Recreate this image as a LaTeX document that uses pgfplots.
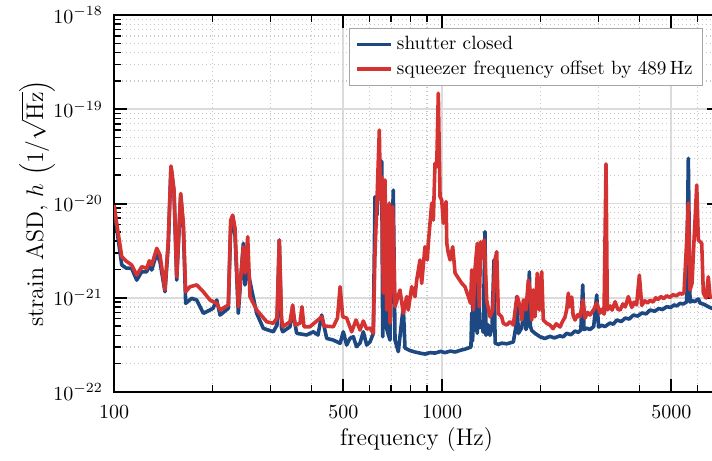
\documentclass[border=0pt]{standalone}
\usepackage{pgfplots}
\usepackage{pgfplotstable}
\pgfplotsset{compat=1.18}
\usetikzlibrary{calc}
\definecolor{cblue}{RGB}{30,72,130}
\definecolor{cred}{RGB}{213,50,50}

\pgfplotstableread{
f h
100 9.64e-21
102.1 5.23e-21
105.6 2.23e-21
108.8 2.07e-21
113.2 2.05e-21
117.3 1.54e-21
121.5 1.89e-21
125.8 1.89e-21
128.1 2.28e-21
130.3 1.97e-21
135.0 2.96e-21
138.1 2.40e-21
143.0 1.16e-21
146.4 3.63e-21
149.2 2.46e-20
152.4 1.32e-20
155.3 1.54e-21
159.7 1.23e-20
162.7 5.50e-21
165.4 8.73e-22
172.5 9.87e-22
178.7 9.47e-22
187.2 6.84e-22
196.2 7.42e-22
200.4 7.73e-22
205.7 9.47e-22
210.5 6.56e-22
223.1 7.73e-22
226.9 5.91e-21
230.1 6.41e-21
233.8 4.63e-21
239.3 6.84e-22
247.9 3.78e-21
250.8 1.37e-21
255.6 1.97e-21
262.9 1.21e-21
272.3 6.84e-22
285.2 4.74e-22
305.9 4.36e-22
314.0 5.14e-22
319.1 4.10e-21
324.1 4.78e-22
326.8 4.36e-22
344.0 4.93e-22
350.6 7.42e-22
360.5 4.20e-22
386.8 4.03e-22
405.1 4.36e-22
418.7 4.03e-22
429.7 6.56e-22
445.1 3.71e-22
466.2 3.56e-22
489.0 3.29e-22
500.1 4.36e-22
512.1 3.15e-22
524.0 3.71e-22
536.4 3.86e-22
548.8 3.03e-22
562.3 3.30e-22
575.5 4.36e-22
589.4 3.15e-22
603.2 3.40e-22
617.4 4.20e-22
624.8 1.18e-20
633.6 7.55e-21
643.9 2.89e-20
654.9 2.78e-20
659.5 3.86e-22
670.2 2.52e-21
679.7 4.55e-22
694.2 3.56e-22
702.5 3.21e-21
710.4 1.39e-20
719.0 3.56e-22
735.8 2.68e-22
762.1 8.04e-22
771.2 2.93e-22
800.0 2.75e-22
827.3 2.66e-22
860.0 2.58e-22
887.4 2.53e-22
920.0 2.62e-22
951.9 2.59e-22
990.0 2.70e-22
1021 2.62e-22
1060 2.72e-22
1096 2.66e-22
1140 2.78e-22
1175 2.85e-22
1225 3.00e-22
1232 6.90e-22
1240 3.50e-22
1246 1.97e-21
1255 4.50e-22
1270 5.40e-22
1281 4.20e-22
1290 3.63e-21
1300 4.80e-22
1320 5.60e-22
1335 4.30e-22
1352 5.02e-21
1362 4.00e-22
1380 5.20e-22
1400 4.00e-22
1420 4.80e-22
1440 2.52e-21
1452 3.30e-22
1485 3.20e-22
1520 3.30e-22
1575 3.25e-22
1650 3.40e-22
1681 5.00e-22
1689 1.03e-21
1710 4.20e-22
1750 4.80e-22
1791 9.47e-22
1803 4.60e-22
1833 5.50e-22
1846 1.89e-21
1860 5.00e-22
1877 4.50e-22
1921 4.20e-22
1990 3.86e-22
2060 3.70e-22
2134 3.90e-22
2200 3.75e-22
2289 3.95e-22
2340 3.85e-22
2400 4.20e-22
2470 4.05e-22
2544 4.44e-22
2600 4.30e-22
2650 4.55e-22
2685 1.37e-21
2710 4.60e-22
2770 4.75e-22
2826 4.60e-22
2900 4.95e-22
2962 1.07e-21
3000 4.90e-22
3070 5.10e-22
3140 4.95e-22
3250 5.40e-22
3330 5.25e-22
3410 5.81e-22
3520 5.60e-22
3620 6.10e-22
3720 5.95e-22
3831 6.56e-22
3950 6.40e-22
4070 6.90e-22
4190 6.75e-22
4307 7.42e-22
4450 7.20e-22
4580 7.70e-22
4700 7.50e-22
4842 8.04e-22
4980 7.90e-22
5100 8.40e-22
5200 8.20e-22
5316 8.73e-22
5440 8.60e-22
5565 9.02e-22
5635 3.02e-20
5703 9.02e-22
5800 9.30e-22
5900 9.10e-22
5978 9.47e-22
6050 9.70e-22
6118 8.80e-22
6300 8.50e-22
6500 8.00e-22
6656 7.73e-22
7000 7.60e-22
}\shutter

\pgfplotstableread{
f h
100 9.64e-21
102.1 5.91e-21
105.6 2.73e-21
108.8 2.46e-21
113.2 2.23e-21
117.3 1.74e-21
121.5 2.14e-21
125.8 2.05e-21
128.1 2.47e-21
130.3 2.23e-21
135.0 3.35e-21
138.1 2.84e-21
143.0 1.21e-21
146.4 4.10e-21
149.2 2.50e-20
152.4 1.39e-20
155.3 1.67e-21
159.7 1.28e-20
162.7 6.21e-21
165.4 1.16e-21
170.5 1.31e-21
178.7 1.37e-21
187.2 1.16e-21
196.2 9.47e-22
205.7 8.73e-22
210.5 7.42e-22
223.1 8.38e-22
226.9 6.68e-21
230.1 7.55e-21
233.8 5.50e-21
239.3 8.04e-22
247.9 3.48e-21
250.8 1.83e-21
255.6 4.44e-21
259.8 1.03e-21
272.3 7.42e-22
292.1 5.57e-22
305.9 5.36e-22
314.0 6.10e-22
319.1 4.10e-21
324.1 6.10e-22
326.8 4.93e-22
344.0 5.57e-22
350.6 8.38e-22
356.3 5.14e-22
369.0 5.36e-22
374.2 8.04e-22
379.5 4.93e-22
395.8 4.93e-22
429.7 6.29e-22
436.7 5.02e-22
466.2 4.93e-22
480.1 6.10e-22
489 1.31e-21
498.0 6.29e-22
512.1 6.10e-22
530.4 4.36e-22
546.7 5.81e-22
562.3 4.55e-22
575.5 5.67e-22
589.4 4.66e-22
603.2 4.78e-22
617.4 4.20e-22
624.8 2.99e-21
633.6 1.09e-20
643.9 6.02e-20
649.4 1.09e-20
654.9 1.92e-20
662.3 1.12e-21
670.2 1.78e-20
678.3 7.42e-22
690.8 1.01e-20
694.2 5.40e-22
707.4 9.25e-21
719.0 8.04e-22
744.6 1.21e-21
762.1 6.84e-22
780.5 1.03e-21
789.0 7.42e-22
808.4 1.31e-21
827.0 1.03e-21
837.2 1.54e-21
856.9 2.52e-21
867.0 1.42e-21
887.4 3.48e-21
902.0 2.52e-21
908.2 3.78e-21
930.2 1.01e-20
941.0 6.68e-21
951.9 2.67e-20
963.4 2.46e-20
974.3 1.48e-19
986.1 1.18e-20
998.0 1.09e-20
1009 6.17e-21
1029 1.05e-20
1034 3.78e-21
1045 2.99e-21
1058 2.52e-21
1078 3.48e-21
1096 1.83e-21
1121 1.62e-21
1148 1.43e-21
1175 1.31e-21
1203 1.03e-21
1222 8.73e-22
1232 1.97e-21
1246 7.42e-22
1261 2.05e-21
1281 3.78e-21
1299 8.04e-22
1312 3.93e-21
1321 2.60e-21
1331 3.78e-21
1346 4.10e-21
1368 9.47e-22
1400 6.29e-22
1427 7.42e-22
1451 2.52e-21
1468 3.08e-21
1485 6.84e-22
1520 6.29e-22
1538 5.36e-22
1575 5.14e-22
1612 5.57e-22
1650 5.14e-22
1681 8.73e-22
1697 1.03e-21
1729 8.04e-22
1750 5.81e-22
1770 9.47e-22
1803 7.42e-22
1833 1.54e-21
1855 1.21e-21
1877 5.81e-22
1898 1.21e-21
1921 6.29e-22
1952 1.82e-21
1980 7.42e-22
2013 1.89e-21
2036 5.81e-22
2085 5.36e-22
2134 5.14e-22
2180 4.70e-22
2230 5.30e-22
2289 4.90e-22
2330 5.60e-22
2371 6.25e-22
2400 7.50e-22
2427 1.12e-21
2450 8.00e-22
2486 1.02e-21
2510 6.50e-22
2544 5.81e-22
2590 6.60e-22
2635 6.29e-22
2691 9.47e-22
2729 6.10e-22
2780 7.00e-22
2826 6.56e-22
2900 7.50e-22
2962 8.80e-22
3032 6.89e-22
3080 7.60e-22
3118 6.70e-22
3162 2.63e-20
3191 7.42e-22
3260 8.20e-22
3300 7.40e-22
3370 9.08e-22
3430 7.60e-22
3490 7.40e-22
3560 8.60e-22
3620 8.00e-22
3699 1.03e-21
3788 7.90e-22
3850 9.00e-22
3920 8.40e-22
3996 1.74e-21
4063 8.30e-22
4150 9.30e-22
4230 8.80e-22
4307 9.40e-22
4400 9.00e-22
4480 1.00e-21
4556 9.60e-22
4650 1.03e-21
4740 9.80e-22
4842 1.05e-21
4950 1.01e-21
5061 1.08e-21
5180 1.05e-21
5316 1.12e-21
5400 1.09e-21
5468 1.15e-21
5573 4.10e-21
5635 1.01e-20
5703 1.21e-21
5784 1.43e-21
5866 4.10e-21
5978 1.57e-20
6045 4.10e-21
6191 3.78e-21
6261 1.12e-21
6381 9.94e-22
6485 1.67e-21
6563 1.02e-21
7000 1.00e-21
}\squeezer

\begin{document}
\begin{tikzpicture}
\begin{axis}[
  xmode=log, ymode=log,
  scale only axis,
  width=302.6pt, height=188.5pt,
  xmin=100, xmax=7000, ymin=1e-22, ymax=1e-18,
  xtick={100,500,1000,5000},
  xticklabels={100,500,1000,5000},
  minor xtick={200,300,400,600,700,800,900,2000,3000,4000,6000},
  ytick={1e-22,1e-21,1e-20,1e-19,1e-18},
  minor ytick={2e-22,3e-22,4e-22,5e-22,6e-22,7e-22,8e-22,9e-22,
               2e-21,3e-21,4e-21,5e-21,6e-21,7e-21,8e-21,9e-21,
               2e-20,3e-20,4e-20,5e-20,6e-20,7e-20,8e-20,9e-20,
               2e-19,3e-19,4e-19,5e-19,6e-19,7e-19,8e-19,9e-19},
  grid=both,
  major grid style={line width=0.8pt, black!14},
  minor grid style={line width=0.6pt, black!22, dash pattern=on 0.6pt off 1.4pt},
  axis line style={line width=1pt},
  tick align=inside,
  major tick style={line width=1pt, black},
  minor tick style={line width=0.7pt, black},
  major tick length=6.3pt, minor tick length=3.3pt,
  xticklabel style={yshift=-3pt},
  yticklabel style={xshift=-2pt},
  xlabel={frequency (Hz)},
  ylabel={strain ASD, $h$ $\left(1/\sqrt{\mathrm{Hz}}\right)$},
  label style={font=\large},
  xlabel style={at={(axis description cs:0.5,-0.1247)}, anchor=center},
  ylabel style={at={(axis description cs:-0.127,0.5)}, anchor=center},
  legend cell align=left,
  legend style={at={(axis description cs:1,1)}, anchor=north east,
    xshift=-8pt, yshift=-6.5pt, draw=black!35, line width=0.5pt,
    font=\fontsize{9.6}{11.5}\selectfont},
]
\addplot[cblue, line width=1.8pt, line join=round] table[x=f, y=h] {\shutter};
\addlegendentry{shutter closed}
\addplot[cred, line width=1.8pt, line join=round] table[x=f, y=h] {\squeezer};
\addlegendentry{squeezer frequency offset by 489\,Hz}
\coordinate (bl) at (rel axis cs:0,0);
\coordinate (tl) at (rel axis cs:0,1);
\end{axis}
\pgfresetboundingbox
\path[use as bounding box] ($(bl)+(-57pt,-34pt)$) rectangle ($(tl)+(299pt,7.5pt)$);
\end{tikzpicture}
\end{document}
